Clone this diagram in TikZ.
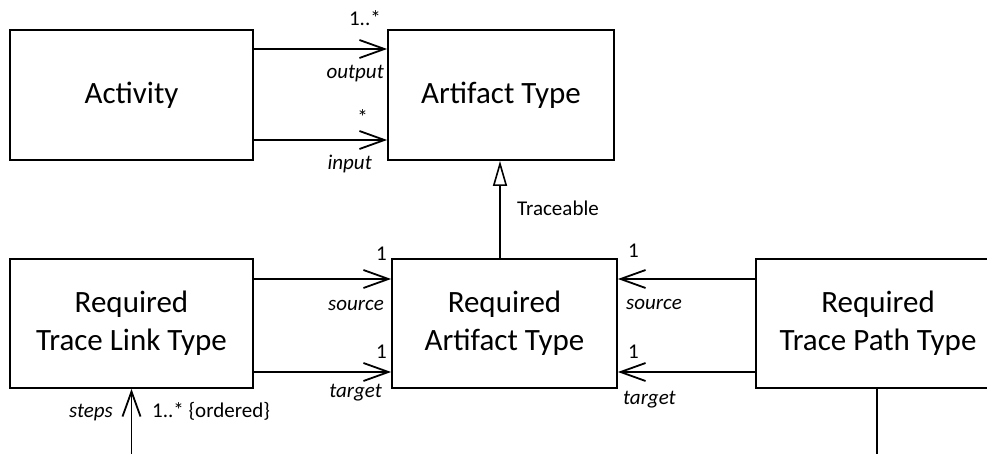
\documentclass[tikz,border=0pt]{standalone}
\usepackage{fontspec}
\setmainfont{Carlito}
\usetikzlibrary{arrows.meta}
\tikzset{
  box/.style={draw, line width=1.8pt, rectangle, align=center, inner sep=0pt,
    font=\fontsize{31}{38}\selectfont},
  assoc/.style={line width=1.8pt, -{Straight Barb[length=25pt,width=18pt,line width=1.8pt]}},
  gen/.style={line width=1.8pt, -{Triangle[open,length=25pt,width=14pt,line width=1.6pt]}},
  plain/.style={line width=1.8pt},
  lbl/.style={inner sep=0pt, font=\fontsize{21}{24}\selectfont},
  rl/.style={lbl, font=\fontsize{21}{24}\selectfont\itshape}
}
\begin{document}
\begin{tikzpicture}[x=1pt,y=-1pt]
\useasboundingbox (0,0) rectangle (987,454);
\node[box, minimum width=243pt, minimum height=130pt] (act) at (131.5,95) {Activity};
\node[box, minimum width=226pt, minimum height=130pt] (art) at (501,95) {Artifact Type};
\node[box, minimum width=243pt, minimum height=129pt] (rtl) at (131.5,323.5) {Required\\Trace Link Type};
\node[box, minimum width=225pt, minimum height=129pt] (ra) at (504.5,323.5) {Required\\Artifact Type};
\node[box, minimum width=244pt, minimum height=129pt] (rtp) at (878,323.5) {Required\\Trace Path Type};
\coordinate (stepsend) at (131.5,470);
\coordinate (pathend) at (877,470);
% associations Activity -> Artifact Type
\draw[assoc] (act.east |- 0,49) -- (art.west |- 0,49);
\draw[assoc] (act.east |- 0,140) -- (art.west |- 0,140);
% generalization
\draw[gen] (ra.north -| 500,0) -- (art.south -| 500,0);
% Trace link type -> Required artifact type
\draw[assoc] (rtl.east |- 0,279) -- (ra.west |- 0,279);
\draw[assoc] (rtl.east |- 0,372) -- (ra.west |- 0,372);
% Trace path type -> Required artifact type
\draw[assoc] (rtp.west |- 0,279) -- (ra.east |- 0,279);
\draw[assoc] (rtp.west |- 0,372) -- (ra.east |- 0,372);
% steps
\draw[assoc] (stepsend) -- (rtl.south);
\draw[plain] (rtp.south -| pathend) -- (pathend);
% labels
\node[lbl, anchor=base east] (l1) at (381,26) {1..*};
\node[rl, anchor=base east] (l2) at (384,79) {output};
\node[lbl, anchor=base east] (l3) at (368,125) {*};
\node[rl, anchor=base east] (l4) at (372,170) {input};
\node[lbl, anchor=base west] (l5) at (517,216) {Traceable};
\node[lbl, anchor=base east] (l6) at (387,261) {1};
\node[rl, anchor=base east] (l7) at (384,310) {source};
\node[lbl, anchor=base east] (l8) at (387,358) {1};
\node[rl, anchor=base east] (l9) at (382,397) {target};
\node[lbl, anchor=base west] (l10) at (628,258) {1};
\node[rl, anchor=base west] (l11) at (626,309) {source};
\node[lbl, anchor=base west] (l12) at (628,358) {1};
\node[rl, anchor=base west] (l13) at (623,404) {target};
\node[rl, anchor=base east] (l14) at (113,417) {steps};
\node[lbl, anchor=base west] (l15) at (152,417) {1..* \{ordered\}};
\end{tikzpicture}
\end{document}
